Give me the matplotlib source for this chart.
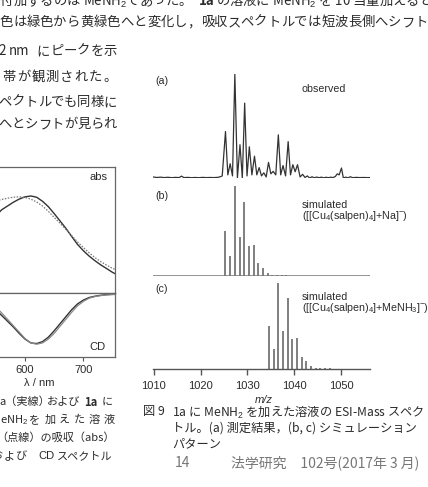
import matplotlib
matplotlib.use("Agg")
import matplotlib.pyplot as plt

W, H = 428, 487

# ESI-MS, panel (a): observed trace (relative intensity)
obs_mz = [1009.8, 1010.6, 1011.4, 1012.2, 1013.0, 1013.8, 1014.6, 1015.4, 1015.9, 1016.4,
          1017.2, 1018.0, 1018.8, 1019.6, 1020.4, 1021.2, 1022.0, 1022.8, 1023.6, 1024.2,
          1024.6, 1025.3, 1025.8, 1026.3, 1026.8, 1027.3, 1027.85, 1028.4, 1028.9, 1029.4,
          1029.9, 1030.4, 1030.95, 1031.5, 1032.0, 1032.5, 1033.0, 1033.5, 1034.0, 1034.5,
          1035.0, 1035.5, 1036.05, 1036.6, 1037.1, 1037.6, 1038.15, 1038.7, 1039.2, 1039.7,
          1040.2, 1040.7, 1041.25, 1041.8, 1042.3, 1042.8, 1043.3, 1043.8, 1044.3, 1044.8,
          1045.3, 1045.8, 1046.3, 1046.8, 1047.3, 1047.8, 1048.3, 1048.8, 1049.2, 1049.6,
          1050.1, 1050.5, 1051.0, 1051.5, 1052.0, 1052.5, 1053.2, 1054.0, 1054.8, 1055.5,
          1056.2]
obs_int = [0.01, 0.005, 0.008, 0.004, 0.007, 0.003, 0.006, 0.004, 0.018, 0.004,
           0.006, 0.003, 0.005, 0.003, 0.006, 0.004, 0.005, 0.004, 0.006, 0.012,
           0.02, 0.447, 0.03, 0.137, 0.02, 1.0, 0.0, 0.32, 0.0, 0.72,
           0.02, 0.30, 0.03, 0.21, 0.03, 0.10, 0.02, 0.05, 0.01, 0.15,
           0.04, 0.064, 0.03, 0.415, 0.03, 0.12, 0.02, 0.35, 0.03, 0.128,
           0.06, 0.128, 0.01, 0.035, 0.005, 0.02, 0.0, 0.012, 0.002, 0.009,
           0.003, 0.008, 0.002, 0.007, 0.003, 0.008, 0.004, 0.015, 0.04, 0.03,
           0.096, 0.0, 0.008, 0.002, 0.012, 0.003, 0.006, 0.004, 0.005, 0.004,
           0.004]

# panel (b): simulated [[Cu4(salpen)4]+Na]-
sim_na_mz = [1025.3, 1026.3, 1027.3, 1028.3, 1029.3, 1030.3, 1031.3, 1032.3, 1033.3,
             1034.3, 1035.3, 1036.3, 1037.3, 1038.3]
sim_na_int = [0.50, 0.22, 1.0, 0.43, 0.82, 0.33, 0.35, 0.14, 0.085,
              0.035, 0.015, 0.01, 0.008, 0.006]

# panel (c): simulated [[Cu4(salpen)4]+MeNH3]-
sim_me_mz = [1034.6, 1035.6, 1036.6, 1037.6, 1038.6, 1039.6, 1040.6, 1041.6, 1042.6,
             1043.6, 1044.6, 1045.6, 1046.6, 1047.6]
sim_me_int = [0.50, 0.23, 1.0, 0.44, 0.82, 0.35, 0.36, 0.14, 0.09,
              0.035, 0.015, 0.01, 0.008, 0.006]

mz_ticks = [1010, 1020, 1030, 1040, 1050]

# abs / CD spectra (figure on the left, cut by the page edge)
wl = [550, 560, 570, 580, 590, 600, 610, 620, 630, 640, 650,
      660, 670, 680, 690, 700, 710, 720, 730, 740, 750, 760]
abs_1a = [0.61, 0.66, 0.69, 0.72, 0.745, 0.763, 0.770, 0.760, 0.728, 0.685, 0.630,
          0.572, 0.513, 0.448, 0.385, 0.335, 0.292, 0.255, 0.222, 0.193, 0.163, 0.140]
abs_amine = [0.73, 0.742, 0.752, 0.76, 0.764, 0.758, 0.745, 0.722, 0.69, 0.648, 0.60,
             0.553, 0.505, 0.455, 0.405, 0.36, 0.318, 0.28, 0.248, 0.22, 0.195, 0.18]
cd_1a = [-0.26, -0.35, -0.44, -0.53, -0.63, -0.72, -0.78, -0.79, -0.76, -0.69, -0.59,
         -0.48, -0.37, -0.26, -0.17, -0.11, -0.07, -0.05, -0.035, -0.025, -0.02, -0.015]
cd_amine = [-0.22, -0.31, -0.41, -0.51, -0.61, -0.71, -0.78, -0.80, -0.78, -0.72, -0.63,
            -0.52, -0.41, -0.30, -0.20, -0.13, -0.08, -0.055, -0.04, -0.03, -0.025, -0.02]
wl_ticks = [600, 700]

plt.rcParams["font.family"] = ["Noto Sans CJK JP", "DejaVu Sans"]
plt.rcParams["mathtext.fontset"] = "custom"
plt.rcParams["mathtext.rm"] = "Liberation Sans"
plt.rcParams["mathtext.it"] = "Liberation Sans:italic"
plt.rcParams["mathtext.bf"] = "Liberation Sans:bold"

ink = "#2b2b2b"
arial = ["Liberation Sans", "Noto Sans CJK JP"]

fig = plt.figure(figsize=(W / 100, H / 100), dpi=100)


def box(x0, y0, x1, y1):
    """pixel box (from top-left) -> figure rect"""
    return [x0 / W, 1 - y1 / H, (x1 - x0) / W, (y1 - y0) / H]


def put(x, y, s, **kw):
    kw.setdefault("color", ink)
    fig.text(x / W, 1 - y / H, s, va="center", **kw)


def spread(s, xa, xb, y, **kw):
    """justified line: characters spaced evenly between two centres"""
    step = (xb - xa) / (len(s) - 1)
    for i, ch in enumerate(s):
        put(xa + i * step, y, ch, ha="center", **kw)


###############################################################################
# body text
body = dict(fontsize=9.6)
spread("付加するのは", 6.5, 73.5, 1, **body)
put(83, 1, "MeNH$_2$", ha="left", **body)
spread("であった。", 133, 185, 1, **body)
put(199, 1, "1a", ha="left", fontweight="bold", **body)
put(216, 1, "の溶液に MeNH$_2$ を 10 当量加えると，", ha="left", **body)
spread("色は緑色から黄緑色へと変化し，吸収スペクトルでは短波長側へシフト", 6.5, 421.5, 22, **body)

put(2, 51, "2", ha="center", **body)
put(9, 51, "nm", ha="left", **body)
spread("にピークを示", 43.5, 110.5, 51, **body)
spread("帯が観測された。", 9, 110, 77, **body)
spread("ペクトルでも同様に", 5, 110, 102, **body)
spread("へとシフトが見られ", 5, 110, 124, **body)

###############################################################################
# left figure: abs (top) and CD (bottom)
ax_abs = fig.add_axes(box(-4.25, 167, 115, 293))
ax_abs.plot(wl, abs_1a, color="#333333", lw=1.0)
ax_abs.plot(wl, abs_amine, color="#777777", lw=0.9, ls=(0, (1.2, 1.2)))
ax_abs.set_xlim(550, 754)
ax_abs.set_ylim(0, 1)
ax_abs.set_xticks([])
ax_abs.set_yticks([])

ax_cd = fig.add_axes(box(-4.25, 293, 115, 357))
ax_cd.plot(wl, cd_1a, color="#333333", lw=1.0)
ax_cd.plot(wl, cd_amine, color="#888888", lw=0.9)
ax_cd.set_xlim(550, 754)
ax_cd.set_ylim(-1, 0)
ax_cd.set_yticks([])
ax_cd.set_xticks(wl_ticks)
ax_cd.tick_params(axis="x", direction="out", length=3, width=0.8, pad=3,
                  labelsize=8, colors="#555555", labelcolor=ink)
for lab in ax_cd.get_xticklabels():
    lab.set_fontfamily(arial)
for a in (ax_abs, ax_cd):
    for sp in a.spines.values():
        sp.set_color("#666666")
        sp.set_linewidth(0.9)

put(108, 177, "abs", ha="right", fontsize=8, family=arial)
put(106, 347, "CD", ha="right", fontsize=8, family=arial)
put(39, 383, "λ / nm", ha="center", fontsize=8, family=arial)

cap = dict(fontsize=8)
put(-1, 402, "a（実線）", ha="left", **cap)
put(47, 402, "および", ha="left", **cap)
put(84, 402, "1a", ha="left", fontweight="bold", **cap)
put(102, 402, "に", ha="left", **cap)
put(0, 420, "eNH$_2$", ha="left", **cap)
spread("を加えた溶液", 35, 109, 420, **cap)
put(115, 437, "（点線）の吸収（abs）", ha="right", **cap)
spread("および", -3, 22, 456, **cap)
put(38, 456, "CD", ha="left", family=arial, fontsize=8)
put(113, 456, "スペクトル", ha="right", **cap)

###############################################################################
# right figure: ESI-MS
xl = (1009.8, 1056.2)

ax_a = fig.add_axes(box(153, 74, 370, 178))
ax_a.plot(obs_mz, obs_int, color="#333333", lw=0.9)
ax_a.set_xlim(*xl)
ax_a.set_ylim(0, 1)
ax_a.axis("off")

ax_b = fig.add_axes(box(153, 186, 370, 276))
ax_b.vlines(sim_na_mz, 0, sim_na_int, color="#6a6a6a", lw=1.2)
ax_b.axhline(0, color="#777777", lw=1.1)
ax_b.set_xlim(*xl)
ax_b.set_ylim(0, 1)
ax_b.axis("off")

ax_c = fig.add_axes(box(153, 283, 370, 369))
ax_c.vlines(sim_me_mz, 0, sim_me_int, color="#6a6a6a", lw=1.2)
ax_c.set_xlim(*xl)
ax_c.set_ylim(0, 1)
for k in ("top", "left", "right"):
    ax_c.spines[k].set_visible(False)
ax_c.spines["bottom"].set_color("#555555")
ax_c.spines["bottom"].set_linewidth(1.0)
ax_c.set_yticks([])
ax_c.set_xticks(mz_ticks)
ax_c.tick_params(axis="x", direction="out", length=4.5, width=1.0, pad=4,
                 labelsize=8, colors="#555555", labelcolor=ink)
for lab in ax_c.get_xticklabels():
    lab.set_fontfamily(arial)

lbl = dict(fontsize=7.7, family=arial)
put(155, 81, "(a)", ha="left", **lbl)
put(324, 89, "observed", ha="center", **lbl)
put(155, 196, "(b)", ha="left", **lbl)
put(302, 205, "simulated", ha="left", **lbl)
put(302, 216, "([[Cu$_4$(salpen)$_4$]+Na]$^{-}$)", ha="left", **lbl)
put(155, 289, "(c)", ha="left", **lbl)
put(302, 297, "simulated", ha="left", **lbl)
put(302, 308, "([[Cu$_4$(salpen)$_4$]+MeNH$_3$]$^{-}$)", ha="left", **lbl)
put(264, 400, "m/z", ha="center", fontsize=8, style="italic", family=arial)

rcap = dict(fontsize=8.8)
put(143, 412, "図 9", ha="left", **rcap)
put(172, 412, "1a に MeNH$_2$ を加えた溶液の ESI-Mass スペク", ha="left", **rcap)
put(172, 428, "トル。(a) 測定結果，(b, c) シミュレーション", ha="left", **rcap)
put(172, 444, "パターン", ha="left", **rcap)

put(182, 463, "14", ha="center", fontsize=10, style="italic", color="#777777")
put(231, 463, "法学研究　102号(2017年 3 月)", ha="left", fontsize=10, color="#777777")

fig.savefig("out.png", dpi=100, facecolor="white")
